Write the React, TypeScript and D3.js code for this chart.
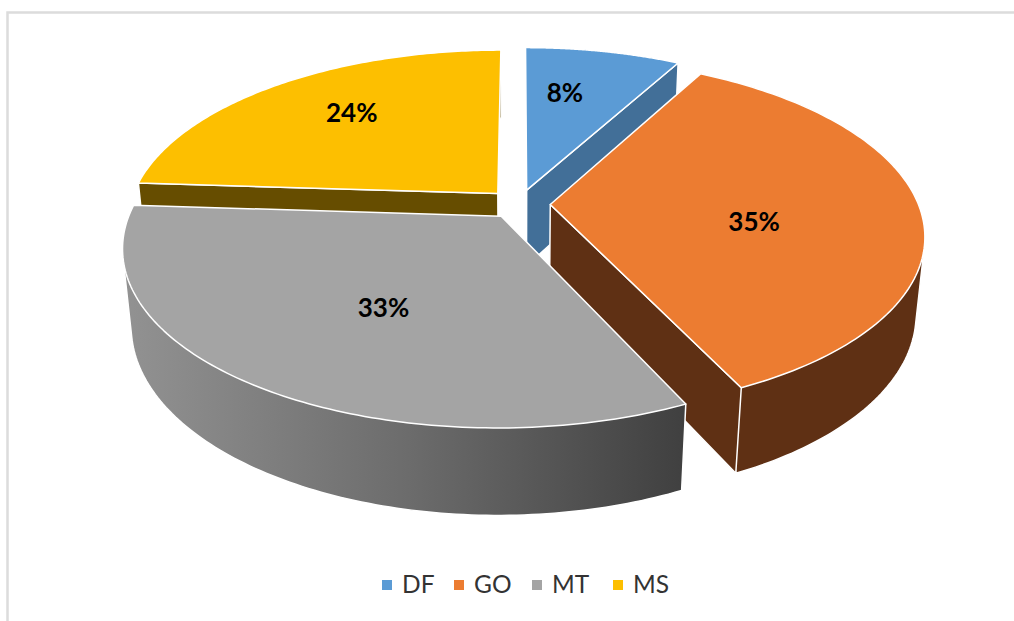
import React from "react";
import * as d3 from "d3";

const categories = ["DF", "GO", "MT", "MS"];
const shares = [8, 35, 33, 24];
const labels = ["8%", "35%", "33%", "24%"];
const topColors = ["#5b9bd5", "#ec7c31", "#a4a4a4", "#fdbf00"];
const wallColors = ["#426f98", "#5f3014", "url(#mtWall)", "#664d00"];

const W = 1014, H = 621;
const FONT = "Lato, 'Open Sans', sans-serif";

// camera model of the tilted pie
const cx = 519, cy = 204;
const A = 368, sinT = 0.465, cosT = Math.sqrt(1 - sinT * sinT), dist = 5.2;
const f = A * dist;
const thick = 0.24;
const explode = 0.085;
const labelR = [0.69, 0.56, 0.555, 0.705];
const labelNudge: [number, number][] = [[-17, 3], [-3, 14], [10, 4], [14, -1]];
const visibleCut = ["end", "end", "none", "start"];

type P = [number, number];
function project(X: number, Y: number, Z: number): P {
  const t = -Y * cosT + Z * sinT;
  const s = Y * sinT + Z * cosT;
  const k = f / (dist - t);
  return [cx + X * k, cy - s * k];
}

const pieGen = d3.pie<number>().sort(null).value((d) => d);
const arcs = pieGen(shares);
const line = d3.line<P>();

export default function App() {
  const order = [0, 3, 1, 2];
  return (
    <svg width={W} height={H} viewBox={`0 0 ${W} ${H}`} style={{ position: "absolute", left: 0, top: 0, background: "#fff" }}>
      <defs>
        <linearGradient id="mtWall" gradientUnits="userSpaceOnUse" x1={125} x2={690} y1={0} y2={0}>
          <stop offset="0" stopColor="#929292" />
          <stop offset="0.5" stopColor="#6c6c6c" />
          <stop offset="1" stopColor="#3f3f3f" />
        </linearGradient>
      </defs>
      <path d="M7.5 621V12.5H1014" fill="none" stroke="#dcdcdc" strokeWidth={2.5} />
      {order.map((i) => {
        const a = arcs[i];
        const mid = (a.startAngle + a.endAngle) / 2;
        const ox = Math.sin(mid) * explode, oy = Math.cos(mid) * explode;
        const angles = d3.range(0, 121).map((j) => a.startAngle + ((a.endAngle - a.startAngle) * j) / 120);
        const rim = (z: number) => angles.map((t) => project(ox + Math.sin(t), oy + Math.cos(t), z));
        const apexT = project(ox, oy, 0), apexB = project(ox, oy, -thick);
        const top = rim(0), bot = rim(-thick);
        const idx = visibleCut[i] === "end" ? top.length - 1 : 0;
        const cut = [apexT, top[idx], bot[idx], apexB] as P[];
        const outer = d3.polygonHull([...top, ...bot]) as P[];
        return (
          <g key={categories[i]}>
            <path d={line(outer) + "Z"} fill={wallColors[i]} stroke="#fff" strokeWidth={1.5} strokeLinejoin="round" />
            {visibleCut[i] !== "none" && (
              <path d={line(cut) + "Z"} fill={wallColors[i]} stroke="#fff" strokeWidth={1.5} strokeLinejoin="round" />
            )}
            <path d={line([apexT, ...top]) + "Z"} fill={topColors[i]} stroke="#fff" strokeWidth={1.5} strokeLinejoin="round" />
          </g>
        );
      })}
      {arcs.map((a, i) => {
        const mid = (a.startAngle + a.endAngle) / 2;
        const r = labelR[i] + explode;
        const [x, y] = project(Math.sin(mid) * r, Math.cos(mid) * r, 0);
        return (
          <text key={labels[i]} x={x + labelNudge[i][0]} y={y + labelNudge[i][1]} dy="0.35em" textAnchor="middle" fontFamily={FONT} fontWeight={700} fontSize={26} fill="#000">
            {labels[i]}
          </text>
        );
      })}
      {categories.map((c, i) => {
        const sx = [382, 454, 532, 613][i];
        return (
          <g key={c}>
            <rect x={sx} y={580} width={10} height={10} fill={topColors[i]} />
            <text x={sx + 20} y={593} fontFamily={FONT} fontSize={24.5} fill="#333">{c}</text>
          </g>
        );
      })}
    </svg>
  );
}
